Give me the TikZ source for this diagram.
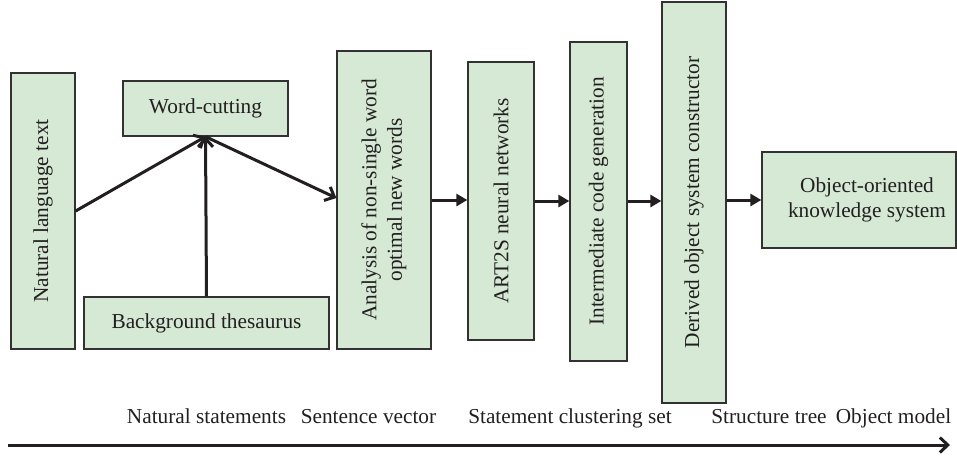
\documentclass[tikz,border=0pt]{standalone}
\usepackage{fontspec}
\setmainfont{Liberation Serif}
\usetikzlibrary{arrows.meta}
\definecolor{boxfill}{RGB}{213,233,213}
\definecolor{boxline}{RGB}{50,50,50}
\definecolor{ink}{RGB}{35,31,32}
\tikzset{
  box/.style={draw=boxline, line width=1.3pt, fill=boxfill, inner sep=0pt, text=ink,
    font=\fontsize{21.3}{25.5}\selectfont, align=center},
  vbox/.style={box, rotate=90},
  openarrow/.style={draw=ink, line width=3pt, -{Straight Barb[length=8pt,width=15pt,line width=3pt]}},
  fillarrow/.style={draw=ink, line width=3pt, -{Triangle[length=11pt,width=12pt]}},
  axislabel/.style={anchor=base, text=ink, font=\fontsize{21.3}{25.5}\selectfont, inner sep=0pt}
}
\begin{document}
\begin{tikzpicture}[x=1pt,y=-1pt]
\useasboundingbox (0,0) rectangle (957,458);
% boxes (vertical: minimum width = vertical extent, minimum height = horizontal extent)
\node[vbox, minimum width=276pt, minimum height=64pt] (nlt) at (43,211) {Natural language text};
\node[box, minimum width=165pt, minimum height=55pt] (wc) at (205.5,108.5) {Word-cutting};
\node[box, minimum width=245pt, minimum height=52pt] (bt) at (206.5,323) {Background thesaurus};
\node[vbox, minimum width=298pt, minimum height=94pt] (ana) at (384,200) {Analysis of non-single word\\optimal new words};
\node[vbox, minimum width=278pt, minimum height=66pt] (art) at (501,201) {ART2S neural networks};
\node[vbox, minimum width=319pt, minimum height=57pt] (inter) at (598.5,201.5) {Intermediate code generation};
\node[vbox, minimum width=401pt, minimum height=64pt] (der) at (694,202.5) {Derived object system constructor};
\node[box, minimum width=194pt, minimum height=96pt] (obj) at (859,200)
  {\begin{tabular}{@{\hspace{16pt}}c@{}}Object-oriented\\[-1pt]knowledge system\end{tabular}};
% connectors
\coordinate (nltout) at (nlt.south |- 0,211);
\draw[openarrow] (nltout) -- (wc.south);
\draw[openarrow] (bt.north) -- (wc.south);
\draw[openarrow] (wc.south) -- (ana.north |- 0,198);
\draw[fillarrow] (ana.south |- 0,200) -- (art.north |- 0,200);
\draw[fillarrow] (art.south |- 0,201) -- (inter.north |- 0,201);
\draw[fillarrow] (inter.south |- 0,201) -- (der.north |- 0,201);
\draw[fillarrow] (der.south |- 0,200) -- (obj.west |- 0,200);
% axis labels
\node[axislabel] (l1) at (206.5,423) {Natural statements};
\node[axislabel] (l2) at (368.5,423) {Sentence vector};
\node[axislabel] (l3) at (570,423) {Statement clustering set};
\node[axislabel] (l4) at (769,423) {Structure tree};
\node[axislabel] (l5) at (893.5,423) {Object model};
% axis
\coordinate (axs) at (8,445);
\coordinate (axe) at (950,445);
\draw[openarrow] (axs) -- (axe);
\end{tikzpicture}
\end{document}
